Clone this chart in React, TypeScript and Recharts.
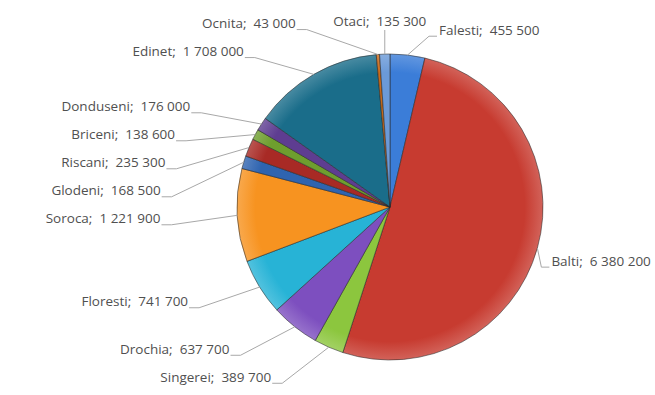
import React from "react"
import { PieChart, Pie, Cell } from "recharts"

const raions = [
  "Falesti", "Balti", "Singerei", "Drochia", "Floresti", "Soroca", "Glodeni",
  "Riscani", "Briceni", "Donduseni", "Edinet", "Ocnita", "Otaci",
]
const amounts = [
  455500, 6380200, 389700, 637700, 741700, 1221900, 168500,
  235300, 138600, 176000, 1708000, 43000, 135300,
]
const sliceColors = [
  "#3B7DD8", "#C73B30", "#8CC63E", "#7D4FBF", "#27B3D6", "#F79320", "#2F64B0",
  "#A82A25", "#6E9E2E", "#5E3D91", "#1A6D8A", "#C86A1A", "#6B9AD8",
]

const W = 655
const H = 395
const CX = 390
const CY = 207
const R = 153
const RAD = Math.PI / 180

const data = raions.map((name, i) => ({ name, value: amounts[i] }))

const fmt = (v: number) => String(v).replace(/\B(?=(\d{3})+(?!\d))/g, " ")

// label layout roughly like Excel's: left side spread out on an ellipse, right side near the edge
const layoutLabels = () => {
  const total = amounts.reduce((a, b) => a + b, 0)
  let acc = 0
  const out: { x: number; y: number; anchor: string; side: string }[] = []
  const left: number[] = []
  amounts.forEach((v, i) => {
    const mid = acc + (v / total) * 180
    acc += (v / total) * 360
    const s = Math.sin(mid * RAD)
    const c = Math.cos(mid * RAD)
    if (Math.min(mid, 360 - mid) < 3) {
      out[i] = { x: CX + R * s - 5, y: CY - R - 32, anchor: "middle", side: "top" }
    } else if (mid < 180) {
      out[i] = {
        x: CX + Math.max(R * s + 12, 47),
        y: Math.max(CY - (R + 30) * c + 6, CY - R - 32),
        anchor: "start",
        side: "right",
      }
    } else {
      out[i] = { x: 0, y: CY - (R + 30) * c, anchor: "end", side: "left" }
      left.push(i)
    }
  })
  left.sort((a, b) => out[a].y - out[b].y)
  left.forEach((idx, k) => {
    if (k > 0) out[idx].y = Math.max(out[idx].y, out[left[k - 1]].y + 28)
    const dy = (out[idx].y - CY) / 200
    out[idx].x = CX - 230 * Math.sqrt(Math.max(0, 1 - dy * dy))
  })
  return out
}

const labelPos = layoutLabels()

const renderLabel = (props: any) => {
  const { cx, cy, midAngle, outerRadius, index, name, value } = props
  const ex = cx + outerRadius * Math.cos(-midAngle * RAD)
  const ey = cy + outerRadius * Math.sin(-midAngle * RAD)
  const p = labelPos[index]
  let pts = ""
  let tx = p.x
  if (p.side === "left") {
    pts = `${ex},${ey} ${p.x + 11},${p.y + 5} ${p.x + 1},${p.y + 5}`
  } else if (p.side === "right") {
    pts = `${ex},${ey} ${p.x - 8},${p.y + 5} ${p.x},${p.y + 5}`
    tx = p.x + 2
  } else {
    pts = `${ex},${ey} ${p.x + 5},${p.y + 8}`
  }
  return (
    <g key={`lbl-${index}`}>
      <polyline points={pts} fill="none" stroke="#a8a8a8" strokeWidth={1} />
      <text
        x={tx}
        y={p.y}
        textAnchor={p.anchor as any}
        dominantBaseline="middle"
        fontSize={13.5}
        fontFamily="'Open Sans', sans-serif"
        fill="#505050"
      >
        {`${name};\u00A0\u00A0${fmt(value)}`}
      </text>
    </g>
  )
}

export default function App() {
  return (
    <div style={{ position: "absolute", left: 0, top: 0, width: W, height: H, background: "#fff" }}>
      <PieChart width={W} height={H} margin={{ top: 0, right: 0, bottom: 0, left: 0 }}>
        <defs>
          {sliceColors.map((c, i) => (
            <radialGradient key={c} id={`sl${i}`} cx={CX} cy={CY} r={R} gradientUnits="userSpaceOnUse">
              <stop offset="0%" stopColor={c} stopOpacity={1} />
              <stop offset="88%" stopColor={c} stopOpacity={1} />
              <stop offset="100%" stopColor={c} stopOpacity={0.8} />
            </radialGradient>
          ))}
        </defs>
        <Pie
          data={data}
          dataKey="value"
          nameKey="name"
          cx={CX}
          cy={CY}
          outerRadius={R}
          startAngle={90}
          endAngle={-270}
          stroke="rgba(40,40,40,0.55)"
          strokeWidth={1}
          label={renderLabel}
          labelLine={false}
          isAnimationActive={false}
        >
          {data.map((d, i) => (
            <Cell key={d.name} fill={`url(#sl${i})`} />
          ))}
        </Pie>
      </PieChart>
    </div>
  )
}
